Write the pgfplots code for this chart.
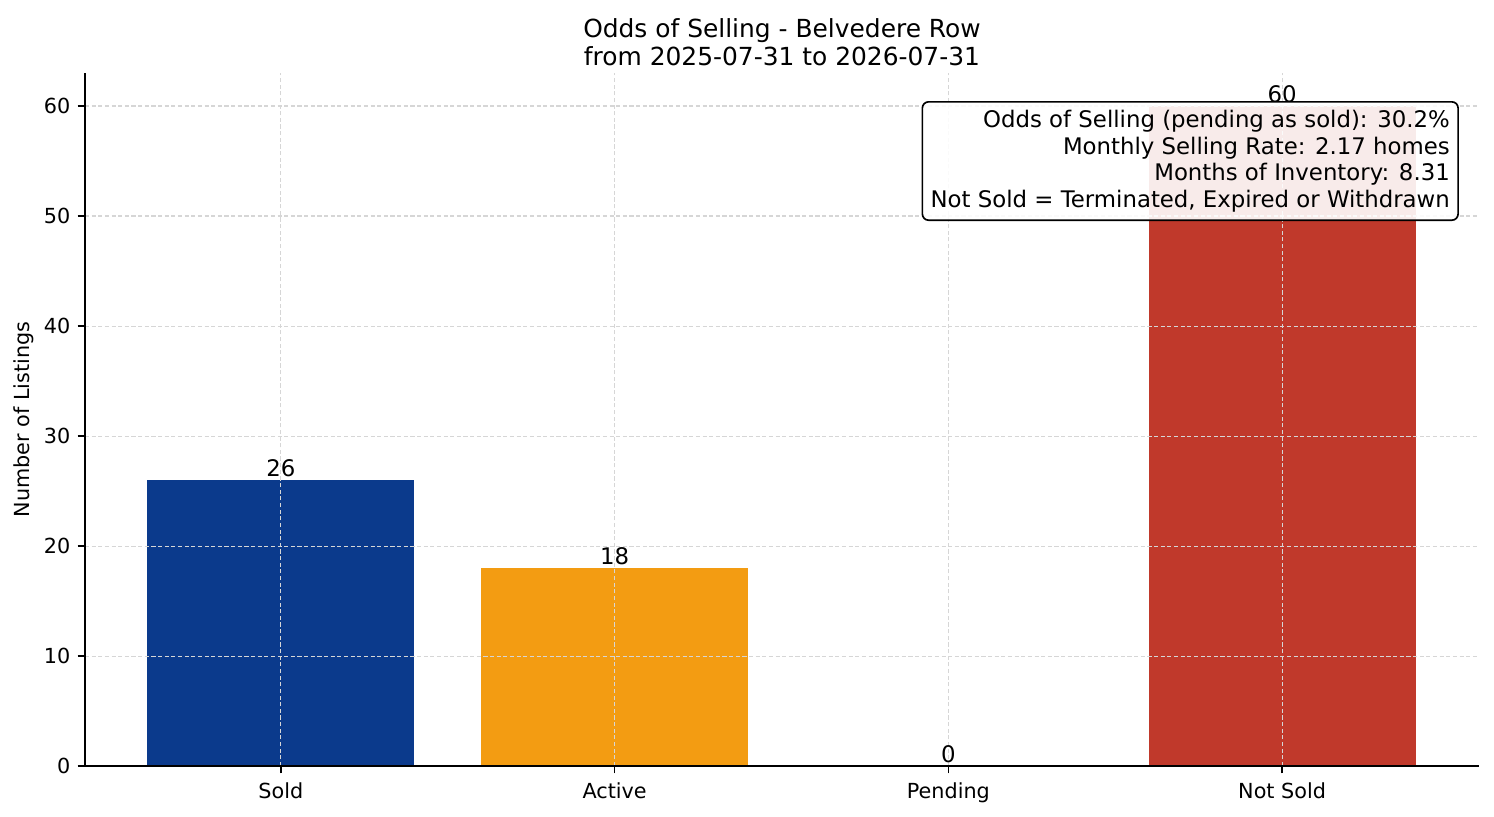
\documentclass[border=0pt]{standalone}
\usepackage{fontspec}
\setmainfont{DejaVu Sans}
\usepackage{pgfplots}
\pgfplotsset{compat=1.18}
\definecolor{soldblue}{HTML}{0B3A8C}
\definecolor{activeorange}{HTML}{F39C12}
\definecolor{notsoldred}{HTML}{C0392B}
\definecolor{gridgray}{HTML}{D6D6D6}

\begin{document}
\begin{tikzpicture}
\begin{axis}[
  scale only axis, width=671.8pt, height=334pt,
  xmin=-0.587, xmax=3.59, ymin=0, ymax=63,
  axis x line*=bottom, axis y line*=left,
  axis line style={line width=0.8pt, black},
  xtick={0,1,2,3}, xticklabels={Sold,Active,Pending,Not Sold},
  ytick={0,10,...,60},
  tick align=outside, major tick length=3.5pt,
  tick style={black, line width=0.8pt},
  grid=major,
  major grid style={gridgray, line width=0.5pt, dash pattern=on 2pt off 1.2pt},
  ticklabel style={font=\fontsize{10}{12}\selectfont},
  xticklabel style={yshift=-1pt},
  /pgf/number format/assume math mode=true,
  ylabel={Number of Listings},
  ylabel style={font=\fontsize{10}{12}\selectfont, yshift=-2pt},
  title={Odds of Selling - Belvedere Row\\from 2025-07-31 to 2026-07-31},
  title style={font=\fontsize{12}{13.2}\selectfont, align=center, yshift=-6pt},
  ybar, bar width=0.8,
  nodes near coords,
  nodes near coords style={font=\fontsize{11}{13}\selectfont, black, inner sep=1.5pt},
  axis on top,
]
\addplot[fill=soldblue, draw=none, bar shift=0pt] coordinates {(0,26)};
\addplot[fill=activeorange, draw=none, bar shift=0pt] coordinates {(1,18)};
\addplot[fill=white, draw=none, bar shift=0pt] coordinates {(2,0)};
\addplot[fill=notsoldred, draw=none, bar shift=0pt] coordinates {(3,60)};
\coordinate (bl) at (rel axis cs:0,0);
\coordinate (tr) at (rel axis cs:1,1);
\coordinate (boxpos) at (rel axis cs:0.9856,0.9596);
\end{axis}
\node[anchor=north east, draw=black, line width=0.8pt, rounded corners=3pt,
  fill=white, fill opacity=0.9, text opacity=1, align=right,
  font=\fontsize{11}{12.8}\selectfont, inner sep=4pt] at (boxpos)
  {Odds of Selling (pending as sold): 30.2\%\\
   Monthly Selling Rate: 2.17 homes\\
   Months of Inventory: 8.31\\
   Not Sold = Terminated, Expired or Withdrawn};
\pgfresetboundingbox
\path (bl) ++(-40.96pt,-24.1pt) coordinate (pbl);
\path (tr) ++(7.23pt,35.18pt) coordinate (ptr);
\path[use as bounding box] (pbl) rectangle (ptr);
\end{tikzpicture}
\end{document}
